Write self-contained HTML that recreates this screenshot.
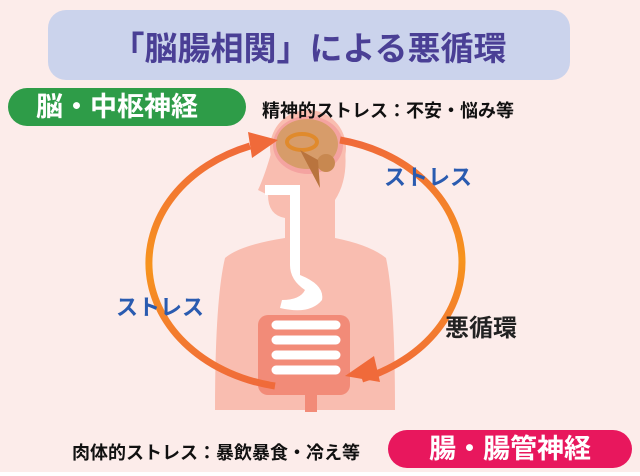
<!DOCTYPE html>
<html><head><meta charset="utf-8"><style>
body{margin:0;width:640px;height:476px;overflow:hidden;background:#fff;font-family:"Liberation Sans","Noto Sans CJK JP",sans-serif}
#c{position:relative;width:640px;height:472px;background:#fcecea}
.a{position:absolute;white-space:nowrap;font-weight:bold}
</style></head><body><div id="c">
<svg width="640" height="472" style="position:absolute;left:0;top:0">
<defs><linearGradient id="g" x1="0" y1="0" x2="0" y2="1"><stop offset="0" stop-color="#f06a3a"/><stop offset=".5" stop-color="#f7941d"/><stop offset="1" stop-color="#f06a3a"/></linearGradient></defs>
<rect x="48" y="10" width="522" height="70" rx="18" fill="#cbd3ec"/>
<path d="M272 150 Q265 175 258 190 L268 195 Q268 215 285 218 L285 238 Q240 245 225 258 Q215 300 215 410 L395 410 Q395 300 386 258 Q370 245 335 238 L335 200 Q348 180 345 150 Z" fill="#f9bdb0"/>
<circle cx="308" cy="148" r="38" fill="#f9bdb0"/>
<ellipse cx="308" cy="145" rx="35" ry="29" fill="#f4a3a0"/>
<ellipse cx="307" cy="144" rx="31" ry="25" fill="#d79c6a"/>
<ellipse cx="302" cy="142" rx="15" ry="8" fill="none" stroke="#e08a2c" stroke-width="4"/>
<circle cx="326" cy="163" r="9" fill="#c88850"/>
<path d="M300 150 L320 188 L318 160 Z" fill="#b9743e"/>
<path d="M265 185 L300 185 L300 275 Q325 285 322 300 Q310 315 280 308 L282 300 Q300 300 305 290 Q290 280 290 265 L290 195 L265 195 Z" fill="#fff"/>
<rect x="258" y="315" width="92" height="80" rx="10" fill="#f28b78"/>
<path d="M276 325 H336 M276 340 H336 M276 355 H336 M276 370 H336" stroke="#fff" stroke-width="9" stroke-linecap="round"/>
<rect x="305" y="390" width="12" height="22" fill="#f28b78"/>
<path d="M250 146 A155 125 0 0 0 275 386" fill="none" stroke="url(#g)" stroke-width="7"/>
<path d="M340 140 A155 125 0 0 1 362 379" fill="none" stroke="url(#g)" stroke-width="7"/>
<path d="M278 140 L248 132 L252 158 Z" fill="#f06a3a"/>
<path d="M345 376 L374 356 L380 382 Z" fill="#f06a3a"/>
</svg>
<div class="a" style="left:48px;top:22px;width:522px;text-align:center;font-size:33px;color:#4a3f95">「脳腸相関」による悪循環</div>
<div class="a" style="left:8px;top:88px;width:238px;height:38px;border-radius:19px;background:#2e9c48;color:#fff;font-size:27px;line-height:38px;text-align:center;padding-right:20px;box-sizing:border-box">脳・中枢神経</div>
<div class="a" style="left:262px;top:97px;font-size:18px;color:#111">精神的ストレス：不安・悩み等</div>
<div class="a" style="left:384px;top:160px;font-size:22px;color:#2a5bb0">ストレス</div>
<div class="a" style="left:116px;top:290px;font-size:22px;color:#2a5bb0">ストレス</div>
<div class="a" style="left:445px;top:308px;font-size:24px;color:#222">悪循環</div>
<div class="a" style="left:72px;top:439px;font-size:18px;color:#111">肉体的ストレス：暴飲暴食・冷え等</div>
<div class="a" style="left:388px;top:430px;width:244px;height:38px;border-radius:19px;background:#e8175d;color:#fff;font-size:27px;line-height:38px;text-align:center">腸・腸管神経</div>
</div></body></html>
